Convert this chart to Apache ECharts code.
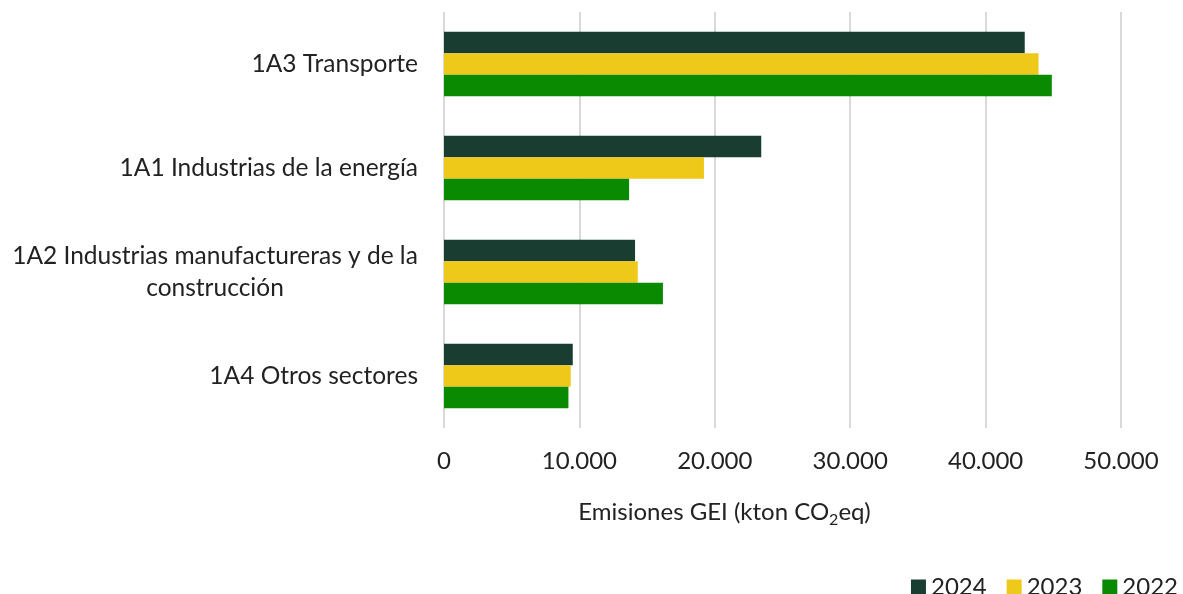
<!DOCTYPE html>
<html>
<head>
<meta charset="utf-8">
<script src="https://cdn.jsdelivr.net/npm/echarts@6/dist/echarts.min.js"></script>
<style>
html,body{margin:0;padding:0;background:#fff;}
#chart{width:1183px;height:594px;}
</style>
</head>
<body>
<div id="chart"></div>
<script>
const categories = ["1A4 Otros sectores", "1A2 Industrias manufactureras y de la\nconstrucción", "1A1 Industrias de la energía", "1A3 Transporte"];
const years = ["2024", "2023", "2022"];
const values2024 = [9510, 14110, 23430, 42890];
const values2023 = [9360, 14310, 19200, 43910];
const values2022 = [9190, 16170, 13670, 44890];
const xTicks = [0, 10000, 20000, 30000, 40000, 50000];
const colors = ["#1a3d32", "#eec91a", "#0a8a00"];

const FONT = "Lato";
const FS = 24;
const FSC = 24.5;

const cv = document.createElement('canvas').getContext('2d');
cv.font = FSC + 'px "' + FONT + '"';
function lineWidth(s){ return Math.ceil(cv.measureText(s).width); }

const chart = echarts.init(document.getElementById('chart'));
const seriesData = [values2024, values2023, values2022];
chart.setOption({
  animation: false,
  textStyle: {fontFamily: FONT},
  grid: {left: 444, right: 62, top: 12, bottom: 166},
  legend: {
    data: years,
    right: 0, top: 570,
    itemWidth: 15, itemHeight: 15, itemGap: 20,
    icon: 'rect',
    textStyle: {fontSize: FS, color: '#222', fontFamily: FONT}
  },
  xAxis: {
    type: 'value', min: 0, max: 50000, interval: 10000,
    axisLine: {show: false}, axisTick: {show: false},
    splitLine: {lineStyle: {color: '#d9d9d9', width: 2}},
    axisLabel: {
      fontSize: FS, color: '#222', margin: 21,
      formatter: v => xTicks.includes(v) ? (v === 0 ? '0' : v.toLocaleString('de-DE')) : ''
    },
    name: '{a|Emisiones GEI (kton CO}{s|2}{a|eq)}',
    nameLocation: 'middle', nameGap: 68,
    nameTextStyle: {
      padding: [0, 116, 0, 0],
      rich: {
        a: {fontSize: FS, color: '#222', fontFamily: FONT},
        s: {fontSize: 16, color: '#222', fontFamily: FONT, verticalAlign: 'bottom', padding: [16,0,0,0]}
      }
    }
  },
  yAxis: {
    type: 'category', data: categories,
    axisLine: {show: false}, axisTick: {show: false},
    axisLabel: {
      fontSize: FSC, color: '#222', margin: 26, lineHeight: 32,
      formatter: v => {
        if (v.indexOf('\n') < 0) return v;
        return v.split('\n').map(l => '{c|' + l + '}').join('\n');
      },
      rich: {c: {fontSize: FSC, color: '#222', fontFamily: FONT, lineHeight: 32, align: 'center', width: lineWidth("1A2 Industrias manufactureras y de la")}}
    }
  },
  series: years.map((y, i) => ({
    name: y, type: 'bar', data: seriesData[i],
    itemStyle: {color: colors[i]},
    barGap: '0%', barCategoryGap: '38%'
  }))
});
</script>
</body>
</html>
